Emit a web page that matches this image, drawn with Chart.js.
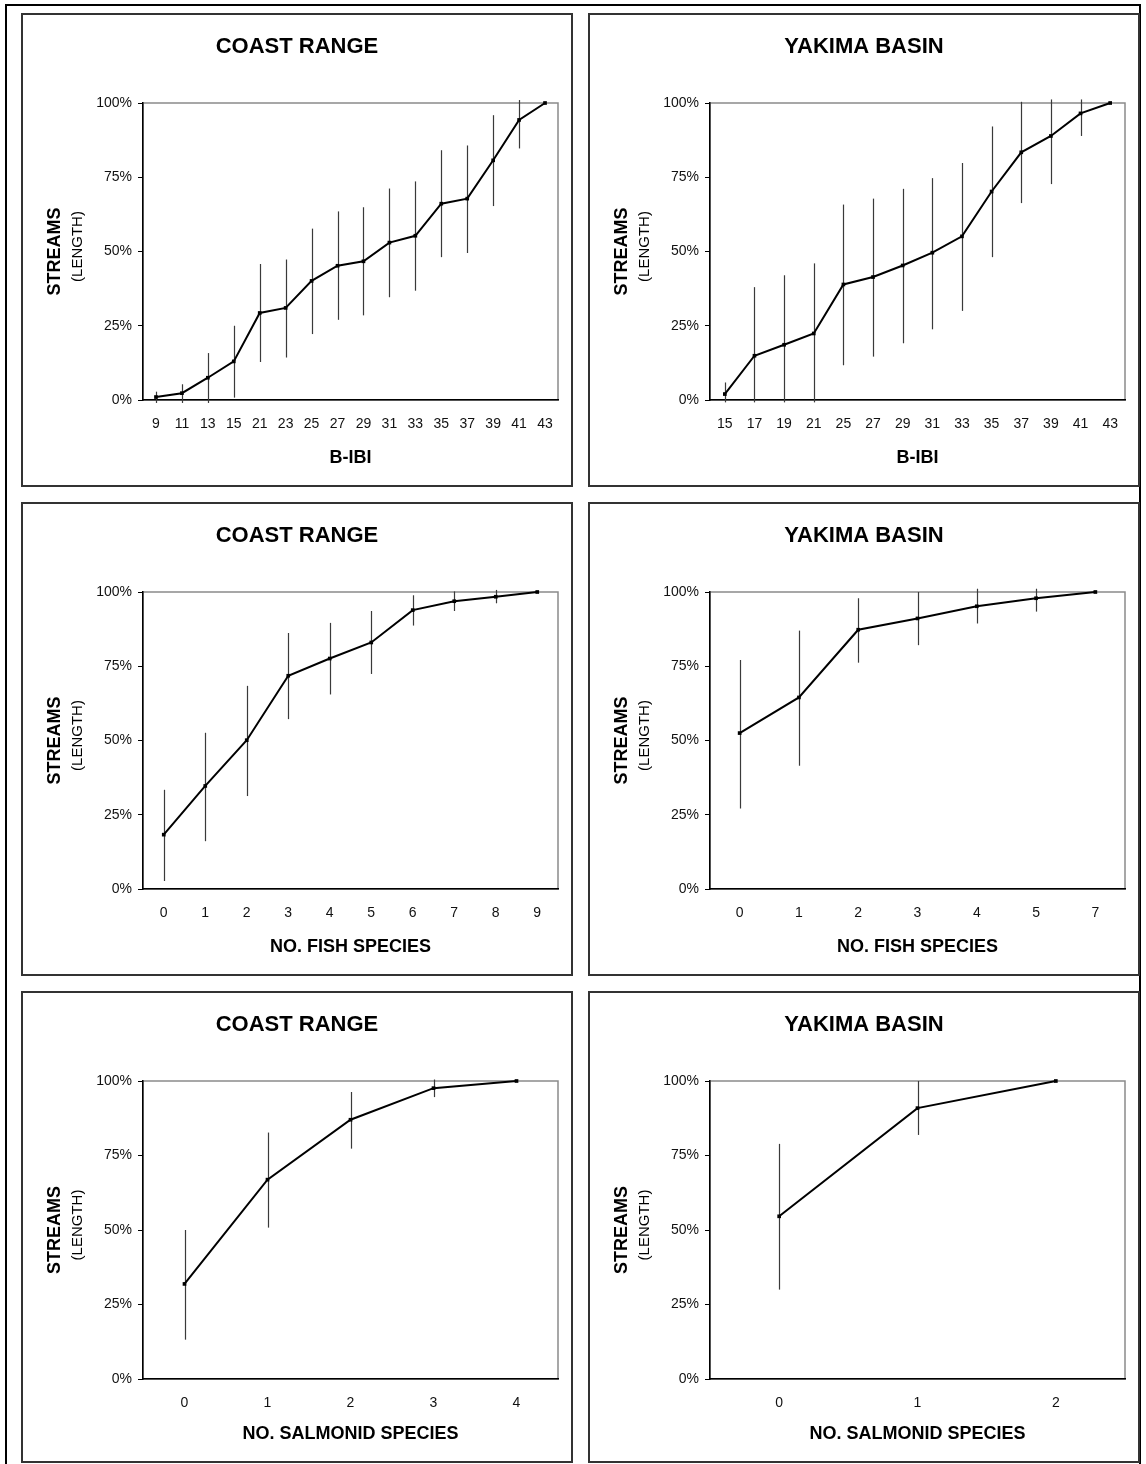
<!DOCTYPE html>
<html>
<head>
<meta charset="utf-8">
<script src="https://cdn.jsdelivr.net/npm/chart.js@4.4.1/dist/chart.umd.min.js"></script>
<style>
  body { margin: 0; background: #fff; width: 1146px; height: 1464px; position: relative; overflow: hidden; }
  #frame { position: absolute; left: 5px; top: 4px; width: 1136px; height: 1470px; border: 2px solid #000; box-sizing: border-box; }
  .panel { position: absolute; border: 2px solid #333; box-sizing: border-box; }
  .panel canvas { position: absolute; left: -2px; top: -2px; }
</style>
</head>
<body>
<div id="frame"></div>

<script>
// B-IBI, Coast Range
const coastBibiLabels = ['9', '11', '13', '15', '21', '23', '25', '27', '29', '31', '33', '35', '37', '39', '41', '43'];
const coastBibiValues = [1.0, 2.3, 7.5, 13.0, 29.3, 31.0, 40.1, 45.2, 46.7, 53.0, 55.3, 66.1, 67.8, 80.7, 94.3, 100];
const coastBibiLow = [-1, -1, -1, 0.8, 12.8, 14.3, 22.2, 27.0, 28.5, 34.6, 36.8, 48.1, 49.5, 65.3, 84.7, null];
const coastBibiHigh = [2.8, 5.3, 15.8, 25.0, 45.8, 47.3, 57.7, 63.5, 64.9, 71.2, 73.6, 84.1, 85.7, 95.9, 101, null];

// B-IBI, Yakima Basin
const yakimaBibiLabels = ['15', '17', '19', '21', '25', '27', '29', '31', '33', '35', '37', '39', '41', '43'];
const yakimaBibiValues = [2.0, 14.9, 18.6, 22.4, 38.9, 41.4, 45.3, 49.6, 55.1, 70.2, 83.4, 88.9, 96.5, 100];
const yakimaBibiLow = [-0.8, -0.8, -0.8, -0.8, 11.7, 14.6, 19.1, 23.8, 30.0, 48.1, 66.3, 72.7, 88.9, null];
const yakimaBibiHigh = [5.9, 38.0, 42.0, 46.0, 65.8, 67.8, 71.1, 74.7, 79.8, 92.1, 100.4, 101.2, 101.2, null];

// no. fish species
const coastFishLabels = ['0', '1', '2', '3', '4', '5', '6', '7', '8', '9'];
const coastFishValues = [18.3, 34.7, 50.1, 71.8, 77.6, 83.0, 93.9, 96.9, 98.4, 100];
const coastFishLow = [2.7, 16.1, 31.3, 57.2, 65.5, 72.4, 88.7, 93.6, 96.2, null];
const coastFishHigh = [33.4, 52.6, 68.4, 86.2, 89.6, 93.6, 98.9, 100.2, 100.7, null];

const yakimaFishLabels = ['0', '1', '2', '3', '4', '5', '7'];
const yakimaFishValues = [52.5, 64.5, 87.3, 91.1, 95.2, 97.9, 100];
const yakimaFishLow = [27.1, 41.5, 76.2, 82.1, 89.4, 93.4, null];
const yakimaFishHigh = [77.1, 87.0, 97.9, 100, 101.1, 101.1, null];

// no. salmonid species
const coastSalmLabels = ['0', '1', '2', '3', '4'];
const coastSalmValues = [31.9, 66.9, 87.0, 97.6, 100];
const coastSalmLow = [13.2, 50.8, 77.3, 94.6, null];
const coastSalmHigh = [50.0, 82.7, 96.3, 100.5, null];

const yakimaSalmLabels = ['0', '1', '2'];
const yakimaSalmValues = [54.6, 90.9, 100];
const yakimaSalmLow = [30.0, 81.9, null];
const yakimaSalmHigh = [78.9, 100, null];

const yTicks = [0, 25, 50, 75, 100];

const FONT = '"Liberation Sans", Arial, Helvetica, sans-serif';

// gray box round the plot area, drawn before the axes
const plotBox = {
  id: 'plotBox',
  beforeDraw(chart) {
    const a = chart.chartArea;
    const ctx = chart.ctx;
    ctx.save();
    ctx.strokeStyle = '#8a8a8a';
    ctx.lineWidth = 1.5;
    ctx.strokeRect(a.left, a.top, a.right - a.left, a.bottom - a.top);
    ctx.restore();
  }
};

// vertical error bars
const errorBars = {
  id: 'errorBars',
  beforeDatasetsDraw(chart, args, opts) {
    const xs = chart.scales.x, ys = chart.scales.y;
    const ctx = chart.ctx;
    ctx.save();
    ctx.strokeStyle = '#3a3a3a';
    ctx.lineWidth = 1.2;
    opts.low.forEach((lo, i) => {
      const hi = opts.high[i];
      if (lo == null || hi == null) return;
      const x = Math.round(xs.getPixelForValue(i)) + 0.5;
      ctx.beginPath();
      ctx.moveTo(x, ys.getPixelForValue(lo));
      ctx.lineTo(x, ys.getPixelForValue(hi));
      ctx.stroke();
    });
    ctx.restore();
  }
};

// panel title and axis titles
const panelText = {
  id: 'panelText',
  afterDraw(chart, args, opts) {
    const ctx = chart.ctx;
    const a = chart.chartArea;
    ctx.save();
    ctx.fillStyle = '#000';
    ctx.textAlign = 'center';
    ctx.textBaseline = 'middle';
    ctx.font = 'bold 22px ' + FONT;
    ctx.fillText(opts.title, chart.width / 2, 34);
    ctx.font = 'bold 18px ' + FONT;
    ctx.fillText(opts.xTitle, (a.left + a.right) / 2, opts.xTitleY);

    const cy = (a.top + a.bottom) / 2;
    ctx.save();
    ctx.translate(34, cy);
    ctx.rotate(-Math.PI / 2);
    ctx.font = 'bold 18px ' + FONT;
    ctx.fillText('STREAMS', 0, 0);
    ctx.restore();
    ctx.save();
    ctx.translate(57, cy - 5);
    ctx.rotate(-Math.PI / 2);
    ctx.font = '15px ' + FONT;
    ctx.fillText('(LENGTH)', 0, 0);
    ctx.restore();
    ctx.restore();
  }
};

function makePanel(left, top, w, h, title, xTitle, labels, values, low, high) {
  const div = document.createElement('div');
  div.className = 'panel';
  div.style.left = left + 'px';
  div.style.top = top + 'px';
  div.style.width = w + 'px';
  div.style.height = h + 'px';
  const canvas = document.createElement('canvas');
  canvas.width = w;
  canvas.height = h;
  canvas.style.width = w + 'px';
  canvas.style.height = h + 'px';
  div.appendChild(canvas);
  document.body.appendChild(div);

  const xAxisH = h - 387 + (h < 474 ? -1 : 0);

  new Chart(canvas.getContext('2d'), {
    type: 'line',
    data: {
      labels: labels,
      datasets: [{
        data: values,
        borderColor: '#000',
        borderWidth: 2,
        backgroundColor: '#000',
        pointStyle: 'rect',
        pointRadius: 2.6,
        pointBorderWidth: 0,
        pointBackgroundColor: '#000',
        tension: 0,
        clip: false,
        fill: false
      }]
    },
    options: {
      responsive: false,
      animation: false,
      devicePixelRatio: 1,
      layout: { padding: { top: 90, right: 15, left: 0, bottom: 0 } },
      scales: {
        x: {
          type: 'category',
          offset: true,
          grid: { display: false },
          border: { display: true, color: '#000', width: 1.5 },
          ticks: {
            color: '#111',
            font: { family: FONT, size: 14 },
            padding: 8,
            maxRotation: 0,
            autoSkip: false
          },
          afterFit(scale) { scale.height = xAxisH; }
        },
        y: {
          min: 0,
          max: 100,
          afterBuildTicks(scale) { scale.ticks = yTicks.map(v => ({ value: v })); },
          grid: { display: true, drawOnChartArea: false, drawTicks: true, tickLength: 5, color: '#000', lineWidth: 1 },
          border: { display: true, color: '#000', width: 1.5 },
          ticks: {
            color: '#111',
            font: { family: FONT, size: 14 },
            padding: 6,
            callback: v => v + '%'
          },
          afterFit(scale) { scale.width = 122; }
        }
      },
      plugins: {
        legend: { display: false },
        tooltip: { enabled: false },
        title: { display: false },
        errorBars: { low: low, high: high },
        panelText: { title: title, xTitle: xTitle, xTitleY: h - 29 }
      }
    },
    plugins: [plotBox, errorBars, panelText]
  });
}

makePanel(21, 13, 552, 474, 'COAST RANGE', 'B-IBI', coastBibiLabels, coastBibiValues, coastBibiLow, coastBibiHigh);
makePanel(588, 13, 552, 474, 'YAKIMA BASIN', 'B-IBI', yakimaBibiLabels, yakimaBibiValues, yakimaBibiLow, yakimaBibiHigh);
makePanel(21, 502, 552, 474, 'COAST RANGE', 'NO. FISH SPECIES', coastFishLabels, coastFishValues, coastFishLow, coastFishHigh);
makePanel(588, 502, 552, 474, 'YAKIMA BASIN', 'NO. FISH SPECIES', yakimaFishLabels, yakimaFishValues, yakimaFishLow, yakimaFishHigh);
makePanel(21, 991, 552, 472, 'COAST RANGE', 'NO. SALMONID SPECIES', coastSalmLabels, coastSalmValues, coastSalmLow, coastSalmHigh);
makePanel(588, 991, 552, 472, 'YAKIMA BASIN', 'NO. SALMONID SPECIES', yakimaSalmLabels, yakimaSalmValues, yakimaSalmLow, yakimaSalmHigh);
</script>
</body>
</html>
